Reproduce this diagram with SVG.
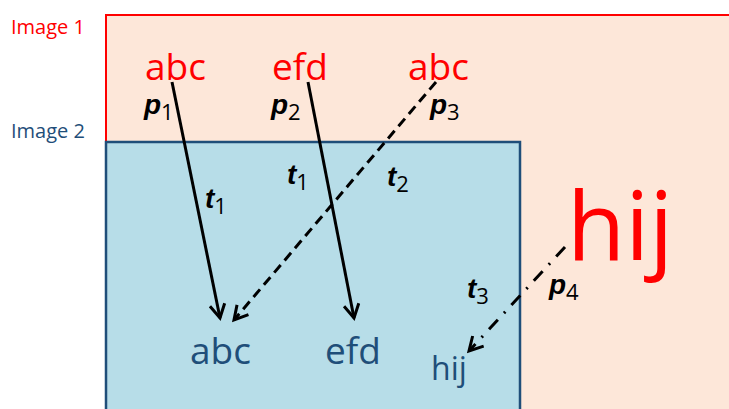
<svg xmlns="http://www.w3.org/2000/svg" width="729" height="409" viewBox="0 0 729 409">
<defs>
<style>
.lbl{font-family:"Open Sans","Liberation Sans",sans-serif;font-size:20px}
.red{fill:#FF0000}
.blue{fill:#1F4E79}
.word{font-family:"Open Sans","Liberation Sans",sans-serif;font-size:37px}
.var{font-family:"Liberation Sans",sans-serif;font-size:28px;font-weight:bold;font-style:italic;fill:#000}
.sub{font-family:"Open Sans","Liberation Sans",sans-serif;font-size:22px;font-weight:normal;font-style:normal;fill:#000}
.conn{stroke:#000;stroke-width:3;fill:none;marker-end:url(#ah)}
</style>
<marker id="ah" viewBox="0 0 12 12" refX="10" refY="6" markerWidth="6" markerHeight="6" orient="auto" markerUnits="strokeWidth">
<polyline points="1,1 10,6 1,11" fill="none" stroke="#000" stroke-width="2"/>
</marker>
</defs>
<rect x="0" y="0" width="729" height="409" fill="#fff"/>
<g id="image1">
<rect x="106" y="15" width="640" height="420" fill="#FDE7D9" stroke="#FF0000" stroke-width="2"/>
<text class="lbl red" x="11" y="34">Image 1</text>
</g>
<g id="image2">
<rect x="106" y="142" width="414" height="290" fill="#B7DDE8" stroke="#1F4E79" stroke-width="2.5"/>
<text class="lbl blue" x="11" y="138">Image 2</text>
</g>
<g id="src-abc1"><text class="word red" x="145" y="80">abc</text></g>
<g id="src-efd"><text class="word red" x="272" y="80">efd</text></g>
<g id="src-abc2"><text class="word red" x="408" y="80">abc</text></g>
<g id="src-hij"><text class="red" x="567" y="260" font-family="Open Sans, Liberation Sans, sans-serif" font-size="95">hij</text></g>
<g id="dst-abc"><text class="word blue" x="190" y="364">abc</text></g>
<g id="dst-efd"><text class="word blue" x="325" y="364">efd</text></g>
<g id="dst-hij"><text class="blue" x="431" y="380" font-family="Open Sans, Liberation Sans, sans-serif" font-size="32">hij</text></g>
<g id="connectors">
<line class="conn" x1="172" y1="82" x2="220" y2="318"/>
<line class="conn" x1="308" y1="82" x2="354" y2="318"/>
<line class="conn" x1="436" y1="82" x2="234" y2="320" stroke-dasharray="10,6"/>
<line class="conn" x1="565" y1="247" x2="469" y2="351" stroke-dasharray="13,9,2,9"/>
</g>
<g id="labels">
<text class="var" x="144" y="114">p<tspan class="sub" dy="6">1</tspan></text>
<text class="var" x="271" y="114">p<tspan class="sub" dy="6">2</tspan></text>
<text class="var" x="430" y="114">p<tspan class="sub" dy="6">3</tspan></text>
<text class="var" x="205" y="208">t<tspan class="sub" dy="6">1</tspan></text>
<text class="var" x="287" y="184">t<tspan class="sub" dy="6">1</tspan></text>
<text class="var" x="387" y="186">t<tspan class="sub" dy="6">2</tspan></text>
<text class="var" x="467" y="298">t<tspan class="sub" dy="6">3</tspan></text>
<text class="var" x="549" y="294">p<tspan class="sub" dy="6">4</tspan></text>
</g>
</svg>
